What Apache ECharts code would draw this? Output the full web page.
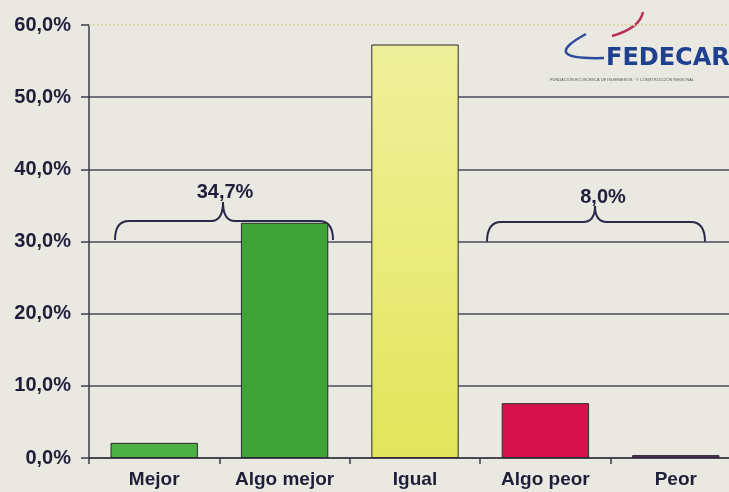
<!DOCTYPE html>
<html>
<head>
<meta charset="utf-8">
<script src="https://cdn.jsdelivr.net/npm/echarts@6/dist/echarts.min.js"></script>
<style>html,body{margin:0;padding:0;background:#e9e9e2;}#c{width:729px;height:492px;}</style>
</head>
<body>
<div id="c"></div>
<script>
const categories = ['Mejor', 'Algo mejor', 'Igual', 'Algo peor', 'Peor'];
const values = [2.1, 32.6, 57.3, 7.6, 0.4];
const barColors = ['#4cb044', '#3ea438', null, '#d5124b', '#5a2a68'];
const yTicks = [0, 10, 20, 30, 40, 50, 60];
const groupLabels = ['34,7%', '57,3%', '8,0%'];

const chart = echarts.init(document.getElementById('c'));
const font = '"Liberation Sans", Arial, sans-serif';
const ink = '#1e1e3a';

const igualGrad = {type: 'linear', x: 0, y: 0, x2: 0, y2: 1, colorStops: [
  {offset: 0, color: '#f0f09c'},
  {offset: 1, color: '#e3e55a'}
]};

const braceStyle = {fill: null, stroke: '#2a2a48', lineWidth: 2};
function brace(x0, x1, xp, yEnd, yFlat, yPeak) {
  const r = 14;
  return [
    {type: 'bezierCurve', shape: {x1: x0, y1: yEnd, cpx1: x0, cpy1: yFlat, x2: x0 + r, y2: yFlat}, style: braceStyle},
    {type: 'line', shape: {x1: x0 + r, y1: yFlat, x2: xp - 12, y2: yFlat}, style: braceStyle},
    {type: 'bezierCurve', shape: {x1: xp - 12, y1: yFlat, cpx1: xp, cpy1: yFlat, x2: xp, y2: yPeak}, style: braceStyle},
    {type: 'bezierCurve', shape: {x1: xp, y1: yPeak, cpx1: xp, cpy1: yFlat, x2: xp + 12, y2: yFlat}, style: braceStyle},
    {type: 'line', shape: {x1: xp + 12, y1: yFlat, x2: x1 - r, y2: yFlat}, style: braceStyle},
    {type: 'bezierCurve', shape: {x1: x1 - r, y1: yFlat, cpx1: x1, cpy1: yFlat, x2: x1, y2: yEnd}, style: braceStyle}
  ];
}

const labelFont = 'bold 20px ' + font;
const graphics = [].concat(
  brace(115, 333, 223, 240, 221, 202),
  brace(487, 705, 595, 242, 222, 206),
  [
    {type: 'text', x: 225, y: 192, style: {text: groupLabels[0], fill: ink, font: labelFont, align: 'center', verticalAlign: 'middle'}},
    {type: 'text', x: 414, y: 188, style: {text: groupLabels[1], fill: ink, font: labelFont, align: 'center', verticalAlign: 'middle'}},
    {type: 'text', x: 603, y: 197, style: {text: groupLabels[2], fill: ink, font: labelFont, align: 'center', verticalAlign: 'middle'}},
    {type: 'bezierCurve', shape: {x1: 604, y1: 58, cpx1: 538, cpy1: 60, x2: 586, y2: 34}, style: {fill: null, stroke: '#2b4c9a', lineWidth: 2.5}},
    {type: 'bezierCurve', shape: {x1: 612, y1: 36, cpx1: 640, cpy1: 28, x2: 643, y2: 12}, style: {fill: null, stroke: '#b8305a', lineWidth: 2.5}},
    {type: 'text', x: 606, y: 59, style: {text: 'FEDECAR', fill: '#1f3f8f', font: 'bold 24px "DejaVu Sans", sans-serif', align: 'left', verticalAlign: 'middle'}},
    {type: 'text', x: 550, y: 80, style: {text: 'FUNDACIÓN ECONÓMICA DE INGENIEROS · Y CONSTRUCCIÓN REGIONAL', fill: '#555', font: '4px sans-serif', align: 'left', verticalAlign: 'middle'}}
  ]
);

chart.setOption({
  backgroundColor: '#e9e9e2',
  animation: false,
  grid: {left: 89, top: 25, width: 652, height: 433, containLabel: false, outerBoundsMode: 'none'},
  xAxis: {
    type: 'category',
    data: categories,
    axisLine: {lineStyle: {color: '#3a3a4a', width: 1.5}},
    axisTick: {show: true, interval: 0, length: 6, lineStyle: {color: '#3a3a4a', width: 1.5}},
    axisLabel: {interval: 0, hideOverlap: false, color: ink, fontFamily: font, fontWeight: 'bold', fontSize: 19, margin: 12}
  },
  yAxis: {
    type: 'value',
    min: yTicks[0], max: yTicks[yTicks.length - 1], interval: 10,
    axisLine: {show: true, lineStyle: {color: '#3a3a4a', width: 1.5}},
    axisTick: {show: true, length: 8, lineStyle: {color: '#3a3a4a', width: 1.5}},
    axisLabel: {color: ink, fontFamily: font, fontWeight: 'bold', fontSize: 20, margin: 18,
      formatter: v => v.toFixed(1).replace('.', ',') + '%'},
    splitLine: {show: true, showMaxLine: false, lineStyle: {color: '#484a5e', width: 1.5}}
  },
  series: [{
    type: 'bar',
    barCategoryGap: '33%',
    data: values.map((v, i) => ({
      value: v,
      itemStyle: {color: barColors[i] || igualGrad, borderColor: '#2a2a30', borderWidth: 1}
    })),
    markLine: {
      silent: true, symbol: 'none', label: {show: false},
      lineStyle: {color: '#d8d8a8', type: 'dotted', width: 2},
      data: [{yAxis: yTicks[yTicks.length - 1]}]
    }
  }],
  graphic: graphics
});
</script>
</body>
</html>
